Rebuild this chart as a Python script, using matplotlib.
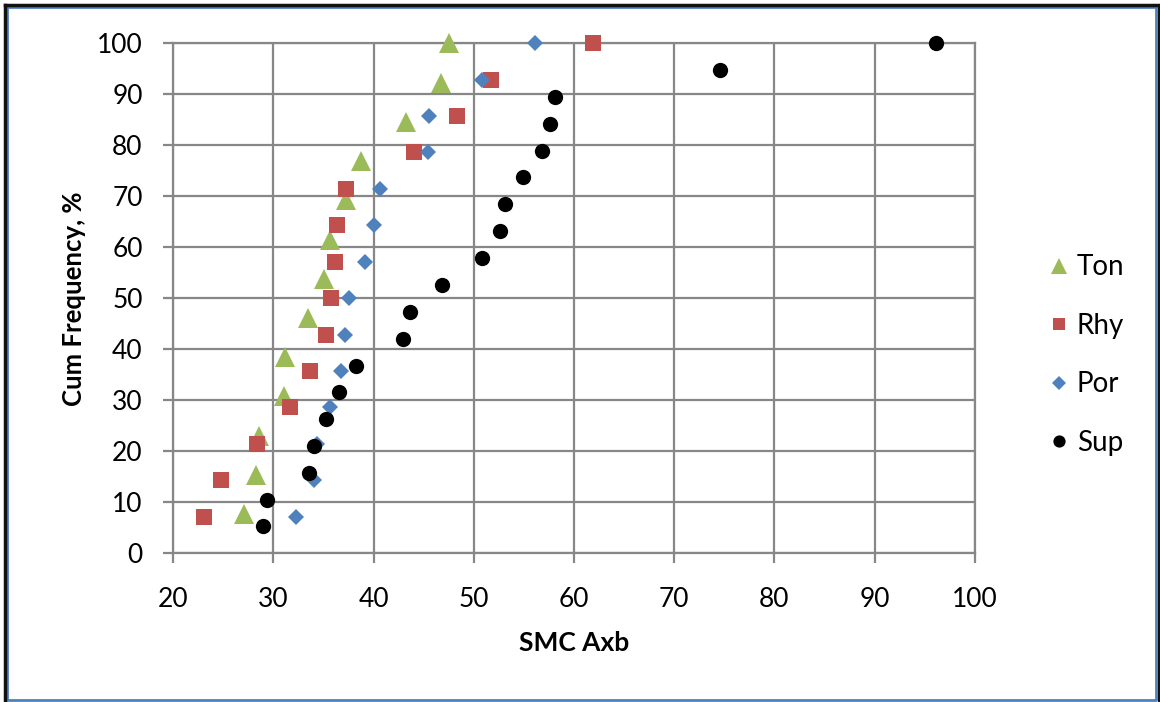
import matplotlib
matplotlib.use("Agg")
import matplotlib.pyplot as plt
import matplotlib.ticker as ticker
from matplotlib.lines import Line2D

plt.rcParams["font.family"] = ["Lato", "DejaVu Sans"]

# SMC Axb values and cumulative frequency (%) per rock type
ton_x = [27.05, 28.25, 28.55, 31.04, 31.14, 33.46, 35.03, 35.63, 37.22, 38.78, 43.27, 46.76, 47.5]
ton_y = [7.7, 15.4, 23.1, 30.8, 38.5, 46.2, 53.8, 61.5, 69.2, 76.9, 84.6, 92.3, 100]

rhy_x = [23.06, 24.72, 28.31, 31.63, 33.66, 35.22, 35.72, 36.09, 36.29, 37.19, 44.0, 48.3, 51.74, 61.88]
rhy_y = [7.1, 14.3, 21.4, 28.6, 35.7, 42.9, 50.0, 57.1, 64.3, 71.4, 78.6, 85.7, 92.9, 100]

por_x = [32.2, 34.03, 34.36, 35.62, 36.72, 37.12, 37.52, 39.14, 40.04, 40.64, 45.43, 45.53, 50.85, 56.06]
por_y = [7.1, 14.3, 21.4, 28.6, 35.7, 42.9, 50.0, 57.1, 64.3, 71.4, 78.6, 85.7, 92.9, 100]

sup_x = [28.91, 29.31, 33.5, 34.0, 35.22, 36.55, 38.22, 42.97, 43.6, 46.82, 50.78,
         52.57, 53.14, 54.9, 56.83, 57.56, 58.09, 74.6, 96.1]
sup_y = [5.3, 10.5, 15.8, 21.1, 26.3, 31.6, 36.8, 42.1, 47.4, 52.6, 57.9,
         63.2, 68.4, 73.7, 78.9, 84.2, 89.5, 94.7, 100]

series = [
    ("Ton", ton_x, ton_y, "^", "#9BBB59", 14),
    ("Rhy", rhy_x, rhy_y, "s", "#C0504D", 11),
    ("Por", por_x, por_y, "D", "#4F81BD", 8.5),
    ("Sup", sup_x, sup_y, "o", "#000000", 11),
]

fig = plt.figure(figsize=(11.6, 7.02), dpi=100)
ax = fig.add_axes([0.1494, 0.2118, 0.691, 0.7265])

for name, xs, ys, marker, color, ms in series:
    ax.plot(xs, ys, linestyle="none", marker=marker, color=color,
            markersize=ms, markeredgewidth=0, label=name, zorder=3, clip_on=False)

ax.set_xlim(20, 100)
ax.set_ylim(0, 100)
ax.xaxis.set_major_locator(ticker.MultipleLocator(10))
ax.yaxis.set_major_locator(ticker.MultipleLocator(10))

grid_color = "#878787"
ax.grid(True, color=grid_color, linewidth=1.6, zorder=0)
ax.set_axisbelow(True)
for side in ["top", "right", "left", "bottom"]:
    ax.spines[side].set_color(grid_color)
    ax.spines[side].set_linewidth(1.6)
ax.tick_params(axis="both", direction="out", length=7, width=1.6, color=grid_color,
               labelsize=19)
ax.tick_params(axis="y", pad=15)
ax.tick_params(axis="x", pad=17)

ax.set_xlabel("SMC Axb", fontsize=19, fontweight="bold", labelpad=14)
ax.set_ylabel("Cum Frequency, %", fontsize=18.5, fontweight="bold", labelpad=8)

legend_handles = [
    Line2D([0], [0], linestyle="none", marker=m, color=c, markeredgewidth=0,
           markersize=s * 0.8, label=n)
    for n, _, _, m, c, s in series
]
fig.legend(handles=legend_handles, loc="center left", bbox_to_anchor=(0.884, 0.494),
           frameon=False, fontsize=20, handlelength=0.6, handletextpad=0.35,
           labelspacing=1.17)

# chart frame: blue outline with dark edge on left, top and right
W, H = 1160, 702
fig.add_artist(Line2D([7 / W, 1156 / W, 1156 / W, 7 / W, 7 / W],
                      [1 - 7 / H, 1 - 7 / H, 1 - 700 / H, 1 - 700 / H, 1 - 7 / H],
                      transform=fig.transFigure, color="#4F81BD", linewidth=2))
fig.add_artist(Line2D([4.5 / W, 4.5 / W], [1 - 702 / H, 1 - 4.5 / H],
                      transform=fig.transFigure, color="#111111", linewidth=2.5))
fig.add_artist(Line2D([4.5 / W, 1159 / W], [1 - 4.5 / H, 1 - 4.5 / H],
                      transform=fig.transFigure, color="#111111", linewidth=2.5))
fig.add_artist(Line2D([1159 / W, 1159 / W], [1 - 4.5 / H, 1 - 702 / H],
                      transform=fig.transFigure, color="#111111", linewidth=1.5))

fig.savefig("out.png", dpi=100)
